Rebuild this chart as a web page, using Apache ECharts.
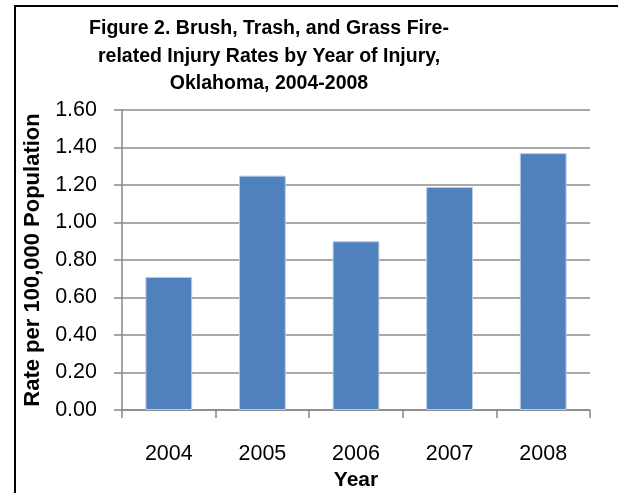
<!DOCTYPE html>
<html>
<head>
<meta charset="utf-8">
<script src="https://cdn.jsdelivr.net/npm/echarts@6/dist/echarts.min.js"></script>
<style>
html,body{margin:0;padding:0;background:#fff;}
#c{width:618px;height:493px;}
</style>
</head>
<body>
<div id="c"></div>
<script>
const categories = ['2004', '2005', '2006', '2007', '2008'];
const rates = [0.71, 1.25, 0.90, 1.19, 1.37];
const titleText = 'Figure 2. Brush, Trash, and Grass Fire-\nrelated Injury Rates by Year of Injury,\nOklahoma, 2004-2008';
const yAxisTitle = 'Rate per 100,000 Population';
const xAxisTitle = 'Year';

const FONT = '"Liberation Sans", Arial, sans-serif';
const chart = echarts.init(document.getElementById('c'), null, {renderer: 'canvas'});
chart.setOption({
  animation: false,
  backgroundColor: '#fff',
  graphic: [{
    type: 'rect',
    shape: {x: 15, y: 6, width: 700, height: 600},
    style: {fill: 'none', stroke: '#000', lineWidth: 2},
    silent: true
  }],
  title: {
    text: titleText,
    left: 264,
    top: 10,
    textAlign: 'center',
    textStyle: {fontFamily: FONT, fontWeight: 'bold', fontSize: 19.5, lineHeight: 27.5, color: '#000'}
  },
  grid: {left: 122, right: 28, top: 110, bottom: 83, containLabel: false, outerBoundsMode: 'none'},
  xAxis: {
    type: 'category',
    data: categories,
    name: xAxisTitle,
    nameLocation: 'middle',
    nameGap: 57,
    nameTextStyle: {fontFamily: FONT, fontWeight: 'bold', fontSize: 21, color: '#000'},
    axisLine: {lineStyle: {color: '#868686', width: 1.5}},
    axisTick: {show: true, length: 8, lineStyle: {color: '#868686', width: 1.5}},
    axisLabel: {fontFamily: FONT, fontSize: 21.5, color: '#000', margin: 33}
  },
  yAxis: {
    type: 'value',
    min: 0, max: 1.6, interval: 0.2,
    name: yAxisTitle,
    nameLocation: 'middle',
    nameRotate: 90,
    nameGap: 77,
    nameTextStyle: {fontFamily: FONT, fontWeight: 'bold', fontSize: 22, color: '#000'},
    axisLine: {show: true, lineStyle: {color: '#868686', width: 1.5}},
    axisTick: {show: true, length: 8, lineStyle: {color: '#868686', width: 1.5}},
    axisLabel: {fontFamily: FONT, fontSize: 21.5, color: '#000', margin: 25,
      formatter: v => v.toFixed(2)},
    splitLine: {show: true, lineStyle: {color: '#8c8c8c', width: 1.5}}
  },
  series: [{
    type: 'bar',
    data: rates,
    barCategoryGap: '50%',
    itemStyle: {color: '#4f81bd', borderColor: '#b9cde5', borderWidth: 1}
  }]
});
</script>
</body>
</html>
